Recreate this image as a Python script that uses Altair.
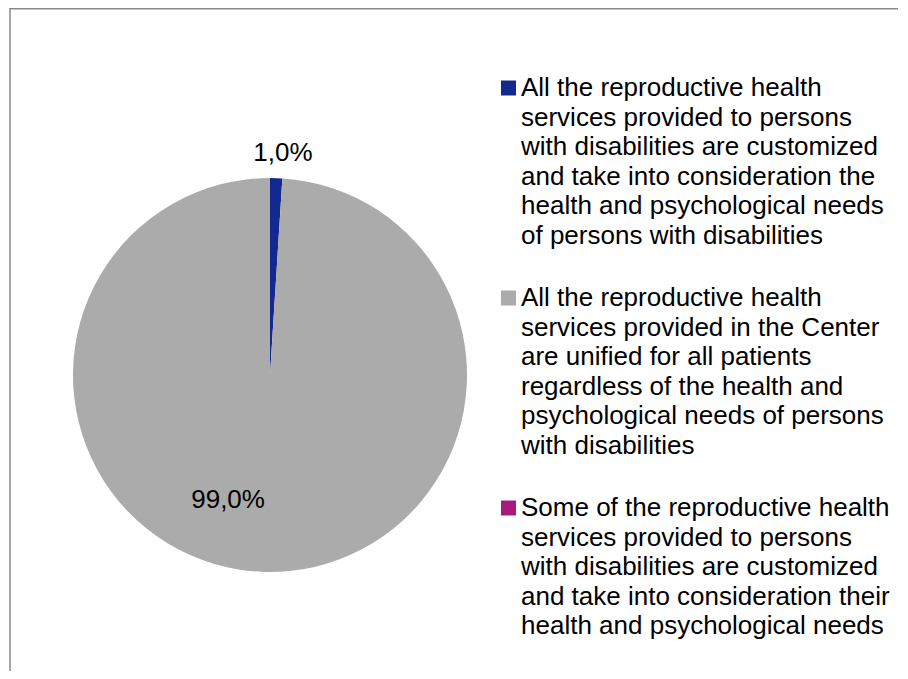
import altair as alt
import pandas as pd

# ---- data ----
categories = [
    "All the reproductive health services provided to persons with disabilities are customized and take into consideration the health and psychological needs of persons with disabilities",
    "All the reproductive health services provided in the Center are unified for all patients regardless of the health and psychological needs of persons with disabilities",
    "Some of the reproductive health services provided to persons with disabilities are customized and take into consideration their health and psychological needs",
]
values = [1.0, 99.0, 0.0]
legend_lines = [
    "All the reproductive health\nservices provided to persons\nwith disabilities are customized\nand take into consideration the\nhealth and psychological needs\nof persons with disabilities",
    "All the reproductive health\nservices provided in the Center\nare unified for all patients\nregardless of the health and\npsychological needs of persons\nwith disabilities",
    "Some of the reproductive health\nservices provided to persons\nwith disabilities are customized\nand take into consideration their\nhealth and psychological needs",
]
colors = ["#13298E", "#ABABAB", "#A61C7E"]

df = pd.DataFrame({
    "cat": categories,
    "value": values,
    "idx": list(range(len(categories))),
    "legend": legend_lines,
})
df["label"] = [f"{v:.1f}%".replace(".", ",") for v in values]

FONT = "Liberation Sans"
FS = 26
CX, CY = 262, 367
R = 197

color_scale = alt.Scale(domain=categories, range=colors)

base = alt.Chart(df).encode(
    theta=alt.Theta("value:Q", stack=True),
    order=alt.Order("idx:Q", sort="ascending"),
    color=alt.Color("cat:N", scale=color_scale, legend=None),
)

pie = base.mark_arc(radius=R, x=CX, y=CY)

lbl_small = base.transform_filter("datum.value > 0 && datum.value < 50").mark_text(
    radius=220, x=CX, y=CY, dx=6, dy=-2, font=FONT, fontSize=FS, color="#000000",
    baseline="middle", align="center",
).encode(text="label:N", color=alt.value("#000000"))

lbl_big = base.transform_filter("datum.value >= 50").mark_text(
    radius=130, x=CX, y=CY, dx=-46, dy=-5, font=FONT, fontSize=FS, color="#000000",
    baseline="middle", align="center",
).encode(text="label:N", color=alt.value("#000000"))

ysc = alt.Scale(domain=[0, 2], range=[80, 500])

leg_sq = alt.Chart(df).mark_square(size=225, opacity=1).encode(
    x=alt.value(500.5),
    y=alt.Y("idx:Q", scale=ysc, axis=None),
    color=alt.Color("cat:N", scale=color_scale, legend=None),
)

leg_txt = alt.Chart(df).mark_text(
    align="left", baseline="middle", font=FONT, fontSize=FS, lineHeight=29.5,
    lineBreak="\n", color="#000000",
).encode(
    x=alt.value(513),
    y=alt.Y("idx:Q", scale=ysc, axis=None),
    text="legend:N",
)

one = pd.DataFrame({"k": [0]})
border_left = alt.Chart(one).mark_rule(color="#898989", strokeWidth=1.5).encode(
    x=alt.value(2), y=alt.value(0), y2=alt.value(663)
)
border_top = alt.Chart(one).mark_rule(color="#898989", strokeWidth=1.5).encode(
    x=alt.value(2), x2=alt.value(890), y=alt.value(0.75)
)

chart = alt.layer(pie, lbl_small, lbl_big, leg_sq, leg_txt, border_left, border_top).properties(
    width=890, height=663,
    autosize=alt.AutoSizeParams(type="none"),
    padding=0,
).configure_view(stroke=None).resolve_scale(y="independent")

chart.save("out.html", embed_options={"renderer": "svg", "actions": False})
